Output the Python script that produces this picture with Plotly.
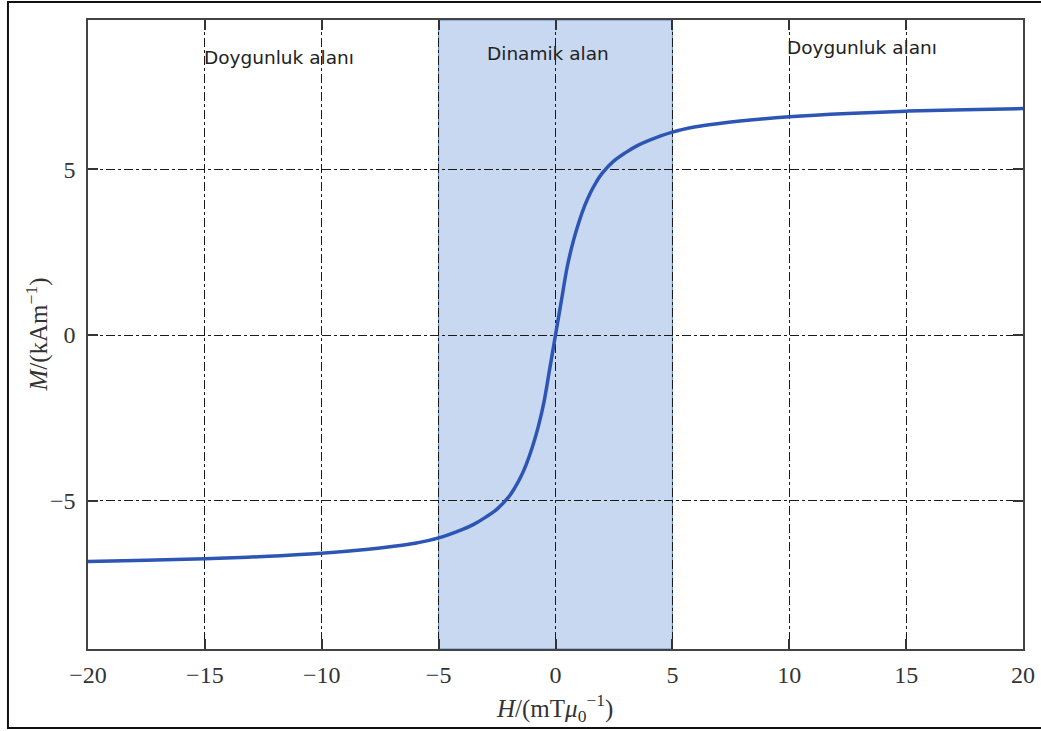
import plotly.graph_objects as go

# Magnetisation curve (H in mT/mu0, M in kA/m)
H_pos = [0.0, 0.25, 0.5, 0.75, 1.0, 1.25, 1.5, 1.75, 2.0, 2.5, 3.0, 3.5, 4.0, 5.0,
         6.0, 7.0, 8.0, 10.0, 12.5, 15.0, 17.5, 20.0]
M_pos = [0.0, 1.03, 2.05, 2.8, 3.4, 3.9, 4.3, 4.62, 4.88, 5.25, 5.5, 5.71, 5.87, 6.12,
         6.28, 6.38, 6.46, 6.58, 6.68, 6.75, 6.79, 6.83]
H_vals = [-h for h in reversed(H_pos[1:])] + H_pos
M_vals = [-m for m in reversed(M_pos[1:])] + M_pos

x_ticks = [-20, -15, -10, -5, 0, 5, 10, 15, 20]
y_ticks = [-5, 0, 5]
dynamic_region = [-5, 5]

region_labels = ["Doygunluk alanı", "Dinamik alan", "Doygunluk alanı"]
region_label_x = [-11.85, -0.3, 13.1]
region_label_y = [8.37, 8.5, 8.67]

x_title = "<i>H</i>/(mT<i>μ</i><sub>0</sub><sup>−1</sup>)"
y_title = "<i>M</i>/(kAm<sup>−1</sup>)"

serif = "Liberation Serif, Times New Roman, serif"
sans = "DejaVu Sans, Verdana, sans-serif"

fig = go.Figure()
fig.add_trace(go.Scatter(
    x=H_vals, y=M_vals, mode="lines",
    line=dict(color="#2d55b3", width=3.5, shape="spline", smoothing=1.0),
    showlegend=False, hoverinfo="skip",
))

fig.add_shape(type="rect", xref="x", yref="paper",
              x0=dynamic_region[0], x1=dynamic_region[1], y0=0, y1=1,
              fillcolor="#c9d8f1", line=dict(color="#5a8ad6", width=1), layer="below")

# frame around the figure
fig.add_shape(type="rect", xref="paper", yref="paper",
              x0=-0.0856, x1=1.05, y0=-0.1256, y1=1.0286,
              line=dict(color="#111", width=2), fillcolor="rgba(0,0,0,0)", layer="above")

for t, xx, yy in zip(region_labels, region_label_x, region_label_y):
    fig.add_annotation(x=xx, y=yy, text=t, showarrow=False,
                       font=dict(family=sans, size=18.5, color="#222"))

# axis titles
fig.add_annotation(xref="paper", yref="paper", x=0.4984, y=-0.0938, text=x_title,
                   showarrow=False, xanchor="center", yanchor="middle",
                   font=dict(family=serif, size=25, color="#333"))
fig.add_annotation(xref="paper", yref="paper", x=-0.0545, y=0.5, text=y_title,
                   showarrow=False, xanchor="center", yanchor="middle", textangle=-90,
                   font=dict(family=serif, size=25, color="#333"))

axis_common = dict(
    showline=True, linecolor="#444", linewidth=1.5, mirror="ticks",
    ticks="inside", ticklen=10, tickwidth=1.5, tickcolor="#333",
    showgrid=True, gridcolor="#1a1a1a", gridwidth=1.3, griddash="dashdot",
    zeroline=False, automargin=False,
    tickfont=dict(family=serif, size=24, color="#333"),
)

fig.update_xaxes(range=[-20, 20], tickvals=x_ticks, ticklabelstandoff=3, **axis_common)
fig.update_yaxes(range=[-9.47, 9.5], tickvals=y_ticks, ticklabelstandoff=6, **axis_common)

fig.update_layout(
    width=1041, height=731,
    margin=dict(l=88, r=18, t=20, b=82),
    plot_bgcolor="white", paper_bgcolor="white",
)

fig.write_html("out.html")
